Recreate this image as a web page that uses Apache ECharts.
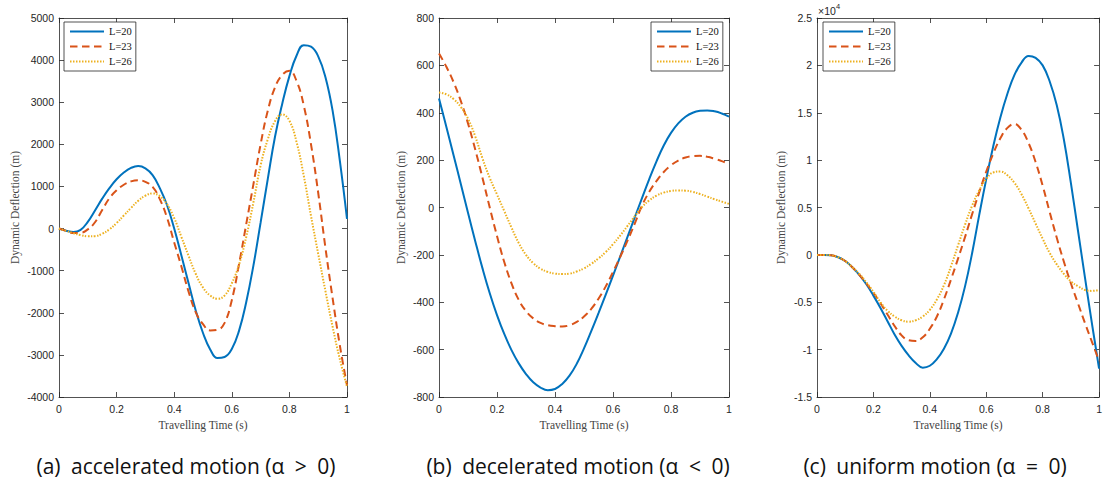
<!DOCTYPE html>
<html>
<head>
<meta charset="utf-8">
<script src="https://cdn.jsdelivr.net/npm/echarts/dist/echarts.min.js"></script>
<style>
  html, body { margin: 0; padding: 0; background: #fff; }
  #chart { width: 1105px; height: 490px; }
</style>
</head>
<body>
<div id="chart"></div>
<script>
// legend names, one per beam length
const seriesNames = ['L=20', 'L=23', 'L=26'];

// travelling time, sampled every 0.025 s
const time = [0, 0.025, 0.05, 0.075, 0.1, 0.125, 0.15, 0.175, 0.2, 0.225, 0.25, 0.275, 0.3, 0.325, 0.35, 0.375,
  0.4, 0.425, 0.45, 0.475, 0.5, 0.525, 0.55, 0.575, 0.6, 0.625, 0.65, 0.675, 0.7, 0.725, 0.75, 0.775,
  0.8, 0.825, 0.85, 0.875, 0.9, 0.925, 0.95, 0.975, 1];

// (a) accelerated motion
const accL20 = [0, -50, -80, -30, 160, 430, 710, 960, 1170, 1330, 1440, 1484, 1430, 1270, 960, 560,
  0, -640, -1300, -1950, -2480, -2870, -3075, -3050, -2860, -2430, -1750, -880, 140, 1180, 2180, 2960,
  3620, 4110, 4355, 4320, 4090, 3600, 2800, 1620, 230];
const accL23 = [0, -55, -105, -100, -20, 150, 440, 720, 910, 1040, 1120, 1148, 1110, 990, 700, 260,
  -330, -900, -1500, -1990, -2270, -2420, -2405, -2240, -1700, -850, 100, 1050, 2000, 2800, 3350, 3650,
  3745, 3500, 2920, 2000, 850, -450, -1650, -2770, -3720];
const accL26 = [0, -55, -110, -155, -185, -180, -125, -20, 130, 310, 490, 660, 780, 835, 770, 580,
  250, -200, -650, -1080, -1400, -1590, -1665, -1590, -1300, -860, -200, 620, 1500, 2120, 2550, 2710,
  2560, 2050, 1250, 300, -600, -1480, -2330, -3100, -3750];

// (b) decelerated motion
const decL20 = [460, 342, 222, 100, -22, -142, -257, -362, -454, -534, -602, -658, -703, -738, -760, -771,
  -766, -745, -710, -660, -595, -522, -446, -368, -288, -206, -124, -42, 40, 120, 195, 262,
  315, 355, 383, 400, 408, 410, 406, 397, 384];
const decL23 = [650, 595, 530, 450, 355, 245, 125, 0, -120, -230, -320, -390, -437, -468, -487, -497,
  -501, -502, -497, -483, -460, -428, -385, -333, -272, -208, -140, -68, 8, 66, 112, 150,
  178, 198, 211, 217, 218, 214, 206, 196, 184];
const decL26 = [485, 478, 458, 425, 375, 300, 207, 125, 55, -15, -85, -150, -200, -235, -258, -272,
  -279, -281, -279, -270, -257, -238, -215, -188, -155, -118, -78, -37, 2, 30, 50, 63,
  70, 72, 71, 66, 57, 46, 35, 25, 15];

// (c) uniform motion, values in units of 1e4 m
const uniL20 = [0, 0, -0.005, -0.025, -0.065, -0.13, -0.21, -0.31, -0.43, -0.56, -0.7, -0.84, -0.96, -1.06, -1.14, -1.19,
  -1.17, -1.1, -0.99, -0.83, -0.61, -0.33, 0.02, 0.42, 0.8, 1.15, 1.45, 1.7, 1.9, 2.03, 2.1, 2.08,
  2.0, 1.83, 1.58, 1.22, 0.76, 0.26, -0.24, -0.73, -1.2];
const uniL23 = [0, 0, -0.005, -0.025, -0.065, -0.13, -0.21, -0.3, -0.4, -0.51, -0.63, -0.75, -0.85, -0.9, -0.908, -0.87,
  -0.78, -0.65, -0.47, -0.26, -0.04, 0.19, 0.43, 0.66, 0.88, 1.07, 1.23, 1.34, 1.38, 1.32, 1.18, 0.98,
  0.73, 0.45, 0.18, -0.07, -0.3, -0.51, -0.72, -0.92, -1.12];
const uniL26 = [0, 0, -0.005, -0.025, -0.065, -0.13, -0.2, -0.29, -0.39, -0.5, -0.59, -0.65, -0.69, -0.705, -0.69, -0.65,
  -0.58, -0.47, -0.32, -0.12, 0.1, 0.32, 0.52, 0.68, 0.8, 0.87, 0.88, 0.84, 0.76, 0.64, 0.49, 0.33,
  0.17, 0.02, -0.1, -0.2, -0.28, -0.33, -0.37, -0.38, -0.37];

const captions = [
  '(a)\u2002accelerated motion (α\u2002>\u20020)',
  '(b)\u2002decelerated motion (α\u2002<\u20020)',
  '(c)\u2002uniform motion (α\u2002=\u20020)'
];

const colors = ['#0072BD', '#D95319', '#EDB120'];
const dashes = ['solid', [7.5, 4.5], [1.5, 1.5]];
const axisColor = '#262626';

const panels = [
  { left: 59, width: 288, min: -4000, max: 5000, step: 1000, data: [accL20, accL23, accL26], legendLeft: 64, nameGap: 38, caption: 186 },
  { left: 439, width: 290, min: -800, max: 800, step: 200, data: [decL20, decL23, decL26], legendLeft: 651, nameGap: 32, caption: 578 },
  { left: 817, width: 290, min: -1.5, max: 2.5, step: 0.5, data: [uniL20, uniL23, uniL26], legendLeft: 823, nameGap: 30, caption: 935 }
];

const chart = echarts.init(document.getElementById('chart'), null, { renderer: 'svg' });

const grid = [], xAxis = [], yAxis = [], series = [], legend = [], graphic = [];

const lineStyle = { color: axisColor, width: 0.8 };
const tick = { inside: true, length: 5, lineStyle: lineStyle };
const labelStyle = { color: axisColor, fontFamily: 'Liberation Sans', fontSize: 10.5 };
const nameStyle = { color: '#444', fontFamily: 'Liberation Serif', fontSize: 11.5 };

panels.forEach((p, i) => {
  grid.push({ left: p.left, top: 18, width: p.width, height: 379 });

  xAxis.push({
    type: 'value', gridIndex: i, min: 0, max: 1, interval: 0.2, position: 'bottom',
    axisLine: { onZero: false, lineStyle: lineStyle }, axisTick: tick, splitLine: { show: false },
    axisLabel: Object.assign({ margin: 6, showMaxLabel: true, formatter: v => String(Math.round(v * 10) / 10) }, labelStyle),
    name: 'Travelling Time (s)', nameLocation: 'middle', nameGap: 18, nameTextStyle: nameStyle
  });
  xAxis.push({
    type: 'value', gridIndex: i, min: 0, max: 1, interval: 0.2, position: 'top',
    axisLine: { onZero: false, lineStyle: lineStyle }, axisTick: tick, splitLine: { show: false },
    axisLabel: { show: false }
  });

  yAxis.push({
    type: 'value', gridIndex: i, min: p.min, max: p.max, interval: p.step, position: 'left',
    axisLine: { onZero: false, lineStyle: lineStyle }, axisTick: tick, splitLine: { show: false },
    axisLabel: Object.assign({ margin: 5, formatter: v => String(Math.round(v * 10) / 10) }, labelStyle),
    name: 'Dynamic Deflection (m)', nameLocation: 'middle', nameGap: p.nameGap, nameRotate: 90, nameTextStyle: nameStyle
  });
  yAxis.push({
    type: 'value', gridIndex: i, min: p.min, max: p.max, interval: p.step, position: 'right',
    axisLine: { onZero: false, lineStyle: lineStyle }, axisTick: tick, splitLine: { show: false },
    axisLabel: { show: false }
  });

  p.data.forEach((vals, k) => {
    series.push({
      name: seriesNames[k], type: 'line', xAxisIndex: 2 * i, yAxisIndex: 2 * i,
      data: time.map((t, j) => [t, vals[j]]),
      symbol: 'none', showSymbol: false, smooth: 0.45, clip: true,
      lineStyle: { color: colors[k], width: 2, type: dashes[k] },
      itemStyle: { color: colors[k] }
    });
  });

  legend.push({
    orient: 'vertical', left: p.legendLeft, top: 22, padding: [4, 4, 4, 5], itemGap: 4,
    itemWidth: 34, itemHeight: 8, selectedMode: false,
    borderColor: axisColor, borderWidth: 0.8, backgroundColor: '#fff',
    itemStyle: { opacity: 0 },
    textStyle: { color: '#111', fontFamily: 'Liberation Serif', fontSize: 10.5 },
    data: seriesNames
  });

  graphic.push({
    type: 'text', x: p.caption, y: 466,
    style: { text: captions[i], fill: '#111', font: '21px "Open Sans"', align: 'center', verticalAlign: 'middle' }
  });
});

// exponent mark of the uniform-motion axis
graphic.push({ type: 'text', x: 818, y: 11, style: { text: '×10', fill: axisColor, font: '10.5px "Liberation Sans"', align: 'left', verticalAlign: 'middle' } });
graphic.push({ type: 'text', x: 836, y: 6, style: { text: '4', fill: axisColor, font: '7.5px "Liberation Sans"', align: 'left', verticalAlign: 'middle' } });

chart.setOption({
  animation: false,
  backgroundColor: '#fff',
  grid, xAxis, yAxis, series, legend, graphic
});
</script>
</body>
</html>
